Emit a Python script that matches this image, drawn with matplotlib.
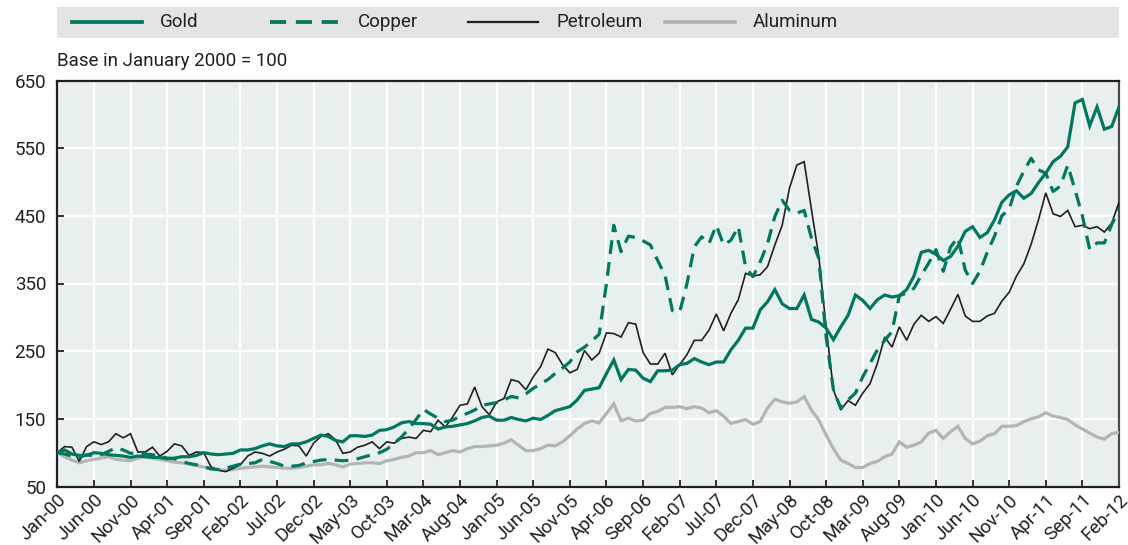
import matplotlib
matplotlib.use("Agg")
import matplotlib.pyplot as plt
import matplotlib.transforms as mtransforms
from matplotlib.lines import Line2D
from matplotlib.patches import Rectangle
import numpy as np

FONT = ["Roboto", "DejaVu Sans"]
plt.rcParams["font.family"] = FONT

# ---- data (monthly, Jan-2000 .. Feb-2012, index Jan-2000 = 100) ----
gold = [100, 104, 98, 96, 96, 100, 99, 97, 96, 95, 93, 95, 94, 93, 93, 91, 92, 94, 94, 96,
        100, 98, 97, 98, 99, 104, 104, 106, 110, 113, 110, 109, 113, 113, 116, 121, 126, 124, 118, 116,
        125, 125, 124, 126, 133, 134, 138, 144, 146, 143, 143, 142, 135, 138, 139, 141, 143, 147, 152, 154,
        148, 148, 152, 149, 147, 151, 149, 155, 162, 165, 168, 178, 192, 194, 196, 217, 237, 208, 223, 222,
        210, 205, 221, 221, 222, 230, 232, 239, 234, 230, 234, 234, 252, 266, 284, 284, 311, 323, 341, 320,
        313, 313, 333, 297, 293, 284, 267, 286, 303, 333, 325, 313, 326, 333, 330, 332, 341, 361, 396, 399,
        393, 384, 390, 405, 427, 434, 418, 425, 444, 470, 481, 487, 476, 483, 499, 513, 530, 538, 552, 617,
        622, 583, 611, 578, 582, 611]
copper = [100, 98, 95, 93, 97, 95, 97, 102, 107, 104, 99, 100, 98, 97, 95, 92, 91, 87, 84, 82,
          79, 76, 75, 77, 80, 83, 84, 85, 90, 87, 84, 80, 80, 81, 85, 87, 89, 90, 89, 88,
          89, 91, 94, 97, 100, 105, 114, 123, 135, 149, 164, 157, 151, 146, 148, 154, 158, 163, 170, 172,
          174, 178, 183, 181, 187, 195, 202, 208, 217, 225, 234, 249, 256, 265, 275, 350, 436, 397, 420, 418,
          413, 407, 384, 362, 310, 308, 350, 404, 419, 409, 436, 407, 414, 434, 375, 360, 382, 409, 449, 473,
          458, 454, 458, 417, 387, 271, 193, 166, 178, 188, 212, 232, 252, 266, 279, 332, 336, 343, 362, 380,
          400, 368, 404, 418, 370, 350, 368, 396, 420, 450, 460, 494, 516, 535, 518, 513, 486, 494, 525, 488,
          450, 400, 410, 410, 437, 459]
petroleum = [100, 109, 108, 87, 109, 116, 112, 116, 128, 122, 128, 101, 101, 108, 95, 102, 113, 110, 96, 101,
             100, 79, 74, 72, 77, 82, 95, 101, 99, 95, 101, 105, 111, 110, 95, 114, 124, 128, 119, 99,
             101, 108, 111, 116, 106, 116, 114, 121, 123, 121, 133, 131, 148, 138, 153, 170, 172, 197, 168, 156,
             175, 180, 208, 205, 193, 212, 227, 253, 248, 230, 218, 223, 251, 237, 247, 277, 276, 271, 292, 290,
             248, 231, 231, 247, 215, 230, 245, 266, 266, 281, 305, 280, 306, 326, 365, 361, 363, 375, 407, 436,
             491, 525, 530, 459, 390, 286, 193, 163, 177, 170, 188, 202, 232, 271, 256, 286, 266, 290, 303, 294,
             301, 291, 312, 334, 302, 294, 294, 302, 306, 324, 337, 361, 379, 408, 444, 484, 453, 449, 458, 434,
             436, 431, 434, 426, 439, 470]
aluminum = [100, 94, 89, 85, 88, 90, 92, 94, 90, 89, 88, 92, 94, 92, 90, 88, 86, 85, 83, 81,
            79, 77, 75, 74, 75, 77, 78, 79, 80, 79, 78, 77, 77, 78, 80, 82, 82, 84, 82, 79,
            83, 84, 85, 85, 84, 88, 90, 93, 95, 100, 100, 103, 97, 100, 103, 101, 106, 109, 109, 110,
            111, 114, 119, 111, 103, 103, 106, 111, 110, 116, 125, 135, 143, 147, 144, 158, 172, 147, 151, 147,
            148, 158, 161, 167, 167, 168, 165, 168, 166, 159, 162, 154, 143, 146, 149, 142, 146, 166, 179, 175,
            173, 175, 183, 163, 148, 126, 106, 89, 84, 78, 78, 84, 87, 94, 98, 116, 108, 111, 116, 129,
            133, 121, 131, 139, 121, 113, 117, 125, 128, 139, 139, 140, 146, 150, 153, 159, 154, 152, 149, 141,
            135, 129, 123, 120, 128, 130]

tick_labels = ["Jan-00", "Jun-00", "Nov-00", "Apr-01", "Sep-01", "Feb-02", "Jul-02", "Dec-02",
               "May-03", "Oct-03", "Mar-04", "Aug-04", "Jan-05", "Jun-05", "Nov-05", "Apr-06",
               "Sep-06", "Feb-07", "Jul-07", "Dec-07", "May-08", "Oct-08", "Mar-09", "Aug-09",
               "Jan-10", "Jun-10", "Nov-10", "Apr-11", "Sep-11", "Feb-12"]
y_ticks = [50, 150, 250, 350, 450, 550, 650]
series_names = ["Gold", "Copper", "Petroleum", "Aluminum"]

# ---- styling ----
GREEN = "#00775f"
BLACK = "#231f20"
GRAY = "#b4b4b6"
BG = "#e8f0ef"
DARK = "#231f20"
FS = 13.5

W, H = 1128, 545
fig = plt.figure(figsize=(W / 100, H / 100), dpi=100)
L, R, B, T = 57.3, 1119, 486.5, 80.5
ax = fig.add_axes([L / W, 1 - B / H, (R - L) / W, (B - T) / H])
ax.set_facecolor(BG)

months = np.arange(len(gold))
styles = {
    "Aluminum": dict(color=GRAY, lw=2.3, ls="-"),
    "Petroleum": dict(color=BLACK, lw=1.2, ls="-"),
    "Gold": dict(color=GREEN, lw=2.3, ls="-"),
    "Copper": dict(color=GREEN, lw=2.3, ls=(0, (4.3, 2.6))),
}
data = {"Gold": gold, "Copper": copper, "Petroleum": petroleum, "Aluminum": aluminum}
for name in ["Aluminum", "Petroleum", "Copper", "Gold"]:
    st = styles[name]
    ax.plot(months, data[name], color=st["color"], lw=st["lw"], ls=st["ls"],
            solid_joinstyle="miter", dash_capstyle="butt", zorder=3)

ax.set_xlim(0, len(gold) - 1)
ax.set_ylim(50, 650)
xt = np.arange(0, len(gold), 5)
ax.set_xticks(xt)
ax.set_xticklabels(tick_labels, rotation=45, ha="right", va="top",
                   rotation_mode="anchor", fontsize=FS, color=DARK)
labs = ax.get_xticklabels()
for i, lab in enumerate(labs):
    dx = -9 if i == len(labs) - 1 else -4
    shift = mtransforms.ScaledTranslation(dx / 100, 0, fig.dpi_scale_trans)
    lab.set_transform(lab.get_transform() + shift)
ax.set_yticks(y_ticks)
ax.set_yticklabels([str(v) for v in y_ticks], fontsize=FS, color=DARK)
ax.tick_params(axis="both", direction="in", length=5, width=1.3, color=DARK)
ax.tick_params(axis="x", pad=3)
ax.tick_params(axis="y", pad=8)
ax.grid(True, color="white", lw=1.6, zorder=1)
ax.set_axisbelow(True)
for sp in ax.spines.values():
    sp.set_color(DARK)
    sp.set_linewidth(1.6)
ax.spines["right"].set_color("#4a4a4a")

# subtitle
fig.text(L / W, 1 - 61 / H, "Base in January 2000 = 100", fontsize=FS,
         color=DARK, ha="left", va="center")

# legend band
fig.add_artist(Rectangle((L / W, 1 - 38 / H), (R - L) / W, 31 / H,
                         transform=fig.transFigure, facecolor="#e4e4e4",
                         edgecolor="none", zorder=0))
leg_x = [72, 270, 468, 665]
ly = 1 - 22 / H
for name, x0 in zip(series_names, leg_x):
    st = styles[name]
    fig.add_artist(Line2D([x0 / W, (x0 + 70) / W], [ly, ly], transform=fig.transFigure,
                          color=st["color"], lw=st["lw"] + 0.4, ls=st["ls"],
                          dash_capstyle="butt"))
    fig.text((x0 + 88) / W, ly, name, fontsize=FS, color=DARK, ha="left", va="center")

fig.savefig("out.png", dpi=100)
